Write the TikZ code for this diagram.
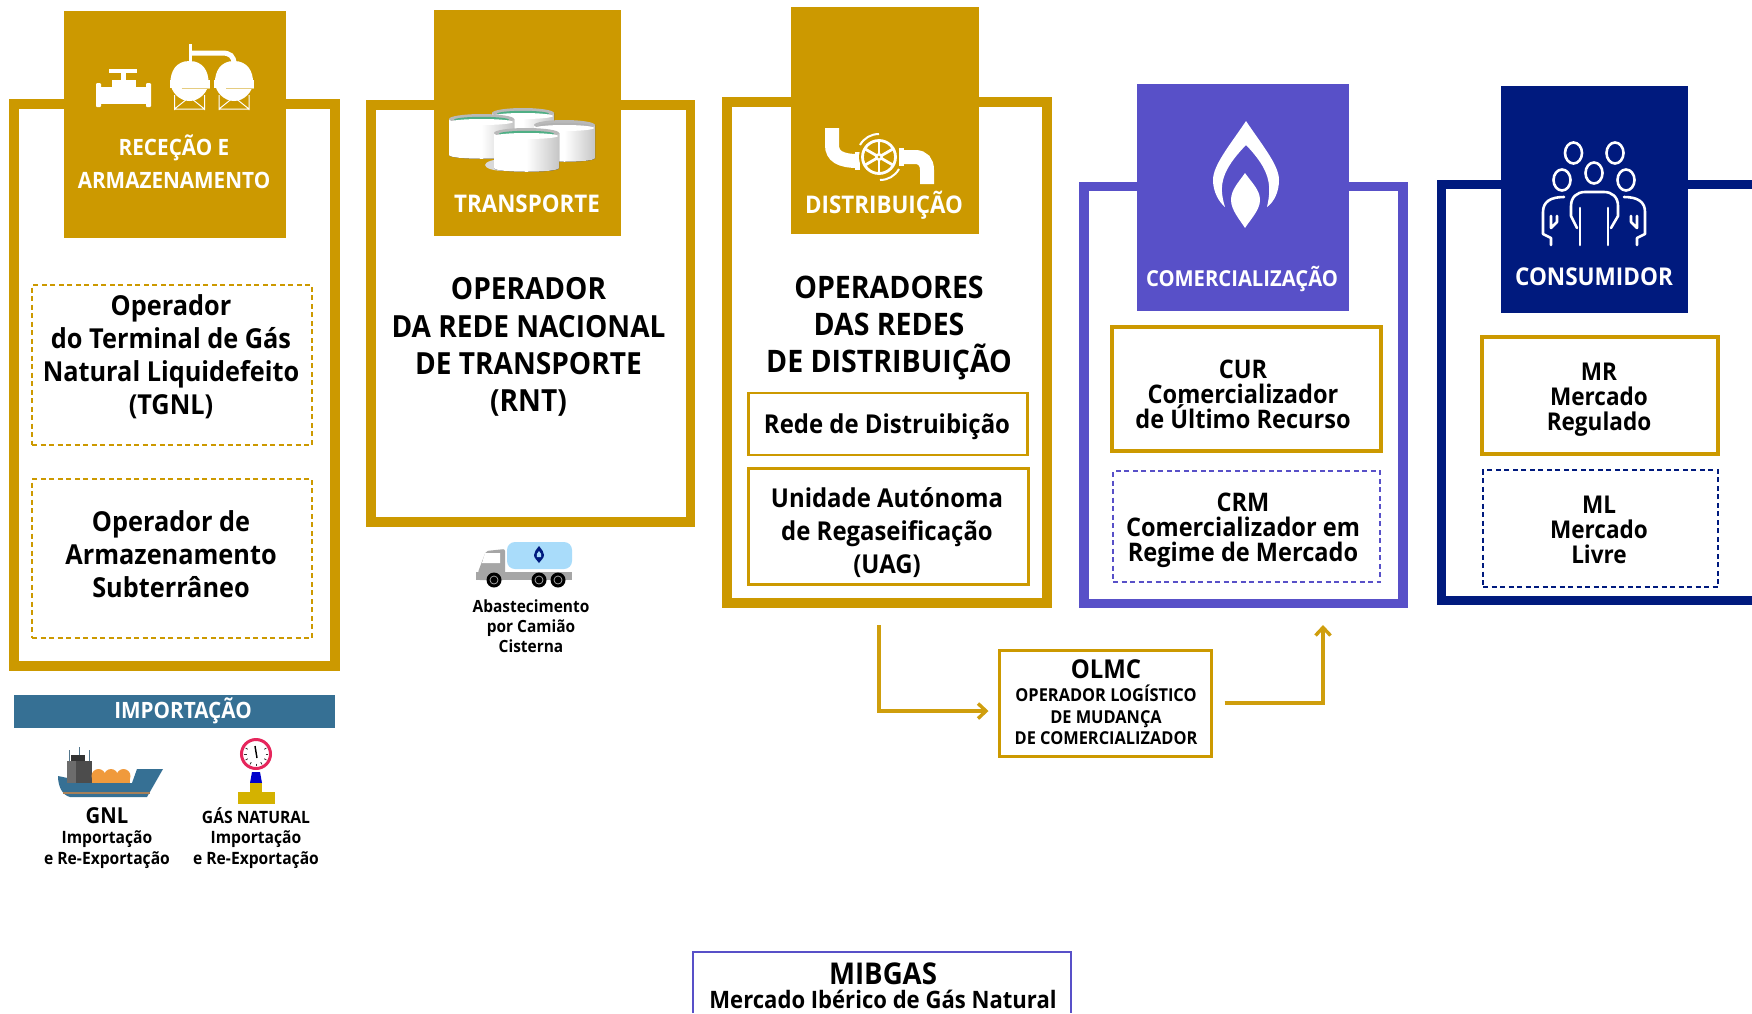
\documentclass[tikz,border=0pt]{standalone}
\usepackage{fontspec}
\setmainfont[FakeStretch=0.92]{Open Sans}
\usetikzlibrary{calc,arrows.meta}
\definecolor{gold}{HTML}{CC9900}
\definecolor{violetb}{HTML}{5850C8}
\definecolor{navyb}{HTML}{001A7E}
\definecolor{tealb}{HTML}{367094}
\definecolor{tankblue}{HTML}{A9DCFA}
\definecolor{shiporange}{HTML}{F09A3C}
\definecolor{gaugeyellow}{HTML}{D4B200}
\definecolor{gaugered}{HTML}{E6265C}
\definecolor{tankgreen}{HTML}{4FAF85}
\newcommand\cylin[5]{%
  \fill[left color=white,right color=gray!45,middle color=white] (#1,#3) -- (#2,#3) -- (#2,#4) .. controls (#2,#4+5) and (#1,#4+5) .. (#1,#4) -- cycle;
  \fill[gray!55] ({(#1+#2)/2},#3) ellipse [x radius={(#2-#1)/2}, y radius=5];
  \fill[#5] ({(#1+#2)/2},{#3+0.8}) ellipse [x radius={(#2-#1)/2-5}, y radius=3];
  \fill[white] ({(#1+#2)/2},{#3+3}) ellipse [x radius={(#2-#1)/2-1}, y radius=3];
}
\tikzset{
  panel/.style={draw=#1,line width=9.5pt,fill=white,inner sep=0pt},
  head/.style={fill=#1,inner sep=0pt},
  solidbox/.style={draw=gold,fill=white,inner sep=0pt},
  dashbox/.style={draw=#1,line width=1.1pt,dash pattern=on 5pt off 3.5pt,inner sep=0pt},
  headtxt/.style={text=white,align=center,inner sep=0pt,font=\bfseries\fontsize{#1}{33}\selectfont},
  txt/.style 2 args={text=black,align=center,inner sep=0pt,font=\bfseries\fontsize{#1}{#2}\selectfont},
  flow/.style={draw=gold!95!white,line width=3.6pt,-{Straight Barb[length=8pt,width=15pt,line width=3.4pt]}},
  iconline/.style={draw=white,line width=2.6pt,line cap=round,line join=round,fill=none},
  pipe/.style={draw=white,line width=14pt,fill=none},
}
\begin{document}
\begin{tikzpicture}[x=1pt,y=-1pt]
\useasboundingbox (0,0) rectangle (1752,1013);
\fill[white] (0,0) rectangle (1752,1013);
% panels
\node[panel=gold,line width=10pt,minimum width=321pt,minimum height=562pt] (p1) at (174.5,385) {};
\node[panel=gold,minimum width=319.5pt,minimum height=417pt] (p2) at (530.5,313.5) {};
\node[panel=gold,minimum width=320pt,minimum height=501pt] (p3) at (887,352.5) {};
\node[panel=violetb,minimum width=319pt,minimum height=417pt] (p4) at (1243.5,395) {};
\draw[draw=navyb,line width=9pt] (1752,184) -- (1441,184) -- (1441,600.5) -- (1752,600.5);
% heads
\node[head=gold,minimum width=222pt,minimum height=227pt] (h1) at (175,124.5) {};
\node[head=gold,minimum width=187pt,minimum height=226pt] (h2) at (527.5,123) {};
\node[head=gold,minimum width=188pt,minimum height=227pt] (h3) at (885,120.5) {};
\node[head=violetb,minimum width=212pt,minimum height=227pt] (h4) at (1243,197.5) {};
\node[head=navyb,minimum width=187pt,minimum height=227pt] (h5) at (1594.5,199.5) {};
% valve icon
\fill[white] (109,69) rectangle (137,73);
\fill[white] (121,73) rectangle (126,80);
\fill[white] (112,80) rectangle (136,88);
\fill[white] (99,87) rectangle (147,104);
\fill[white,rounded corners=1pt] (96,83) rectangle (101,107);
\fill[white,rounded corners=1pt] (146,83) rectangle (151,107);
% tanks icon
\draw[white,line width=3pt] (190,44) -- (190,63);
\draw[white,line width=5pt] (190,53) -- (222,53) .. controls (230,53) and (234,56) .. (234,64);
\foreach \c in {189.5,234}{
  \fill[white] (\c,61) .. controls (\c+14,61) and (\c+19,72) .. (\c+19,82) .. controls (\c+19,92) and (\c+10,101) .. (\c,101) .. controls (\c-10,101) and (\c-19,92) .. (\c-19,82) .. controls (\c-19,72) and (\c-14,61) .. (\c,61) -- cycle;
  \fill[white] (\c-20,80) rectangle (\c+20,88);
  \draw[gold!50!white,line width=.8pt] (\c-8,88) -- (\c+20,88);
  \draw[white,line width=1pt] (\c-15,95) -- (\c-15,110) (\c+15,95) -- (\c+15,110) (\c-15,109) -- (\c+15,109) (\c-15,109) -- (\c,97) -- (\c+15,109);
}
% cylinders
\fill[gray!30] (505,165) ellipse [x radius=20, y radius=6];
\cylin{492}{554}{113}{150}{tankgreen}
\cylin{534}{595}{125}{158}{gray!60}
\cylin{449}{514}{119}{155}{tankgreen}
\cylin{494}{559}{133}{168}{tankgreen}
% pipe and wheel
\draw[pipe] (832,128) -- (832,145) .. controls (832,156) and (840,161) .. (858,161);
\draw[pipe] (903,157) -- (915,157) .. controls (923,157) and (927,162) .. (927,170) -- (927,184);
\fill[white] (855,152) rectangle (860,170);
\fill[white] (899,148) rectangle (904,166);
\fill[gold] (879,157) circle [radius=20];
\draw[white,line width=2.8pt] (879,157) circle [radius=16.5];
\foreach \a in {30,90,150,210,270,330}{\draw[white,line width=2.8pt] (879,157) -- ++(\a:16.5);}
\fill[white] (879,157) circle [radius=4];
\fill[gold] (879,157) circle [radius=1.4];
\draw[white,line width=2pt] (879,134) .. controls (871,134) and (864,138) .. (860,145);
\draw[white,line width=2pt] (880,180) .. controls (888,180) and (895,176) .. (899,169);
% flame
\fill[white] (1246,121) .. controls (1230,145) and (1213,165) .. (1213,180) .. controls (1213,192) and (1219,202) .. (1225,207) .. controls (1218,185) and (1222,170) .. (1246,145) .. controls (1270,170) and (1272,185) .. (1267,207) .. controls (1274,202) and (1279,192) .. (1279,180) .. controls (1279,165) and (1262,145) .. (1246,121) -- cycle;
\fill[white] (1245,173) .. controls (1238,183) and (1231,190) .. (1231,200) .. controls (1231,210) and (1240,220) .. (1245,228) .. controls (1250,220) and (1260,210) .. (1260,200) .. controls (1260,190) and (1252,183) .. (1245,173) -- cycle;
% people
\foreach \px/\py in {1573.5/153,1615/153,1594/173,1562/180,1626/180}{
  \draw[iconline] (\px,\py) ellipse [x radius=8.5, y radius=10.5];
}
\draw[iconline] (1577,228) -- (1571,216) -- (1571,206) .. controls (1571,197) and (1577,192) .. (1585,192) -- (1604,192) .. controls (1612,192) and (1618,197) .. (1618,206) -- (1618,216) -- (1611,228);
\draw[iconline] (1580,208) -- (1580,245) (1608,208) -- (1608,245);
\draw[iconline] (1564,197) .. controls (1550,197) and (1543,202) .. (1543,212) -- (1543,234) -- (1551,238) -- (1551,245);
\draw[iconline] (1551,216) -- (1551,228) -- (1557,222) -- (1557,216);
\draw[iconline] (1624,197) .. controls (1638,197) and (1645,202) .. (1645,212) -- (1645,234) -- (1637,238) -- (1637,245);
\draw[iconline] (1637,216) -- (1637,228) -- (1631,222) -- (1631,216);
% head labels
\node[headtxt=22.5] (l1) at (174,161.5) {RECEÇÃO E\\ARMAZENAMENTO};
\node[headtxt=24.3] (l2) at (527,204) {TRANSPORTE};
\node[headtxt=24.3] (l3) at (884,205) {DISTRIBUIÇÃO};
\node[headtxt=22] (l4) at (1242,279) {COMERCIALIZAÇÃO};
\node[headtxt=24.5] (l5) at (1594,277) {CONSUMIDOR};
% inner boxes
\node[dashbox=gold,minimum width=280pt,minimum height=160pt] (d1) at (172,365) {};
\node[dashbox=gold,minimum width=280pt,minimum height=159pt] (d2) at (172,558.5) {};
\node[solidbox,line width=2.5pt,minimum width=279pt,minimum height=62pt] (b1) at (888,424) {};
\node[solidbox,line width=3pt,minimum width=280pt,minimum height=116pt] (b2) at (888,526) {};
\node[solidbox,line width=4.5pt,minimum width=269pt,minimum height=124pt] (b3) at (1246.5,389) {};
\node[dashbox=violetb,minimum width=267pt,minimum height=111pt] (d3) at (1246.5,526.5) {};
\node[solidbox,line width=4.5pt,minimum width=236pt,minimum height=117pt] (b4) at (1600,395.5) {};
\node[dashbox=navyb,minimum width=235pt,minimum height=117pt] (d4) at (1600.5,528.5) {};
% inner texts
\node[txt={27.5}{33}] (t1) at (171,357) {Operador\\do Terminal de Gás\\Natural Liquidefeito\\(TGNL)};
\node[txt={27.5}{33}] (t2) at (171,554) {Operador de\\Armazenamento\\Subterrâneo};
\node[txt={30.5}{37.3}] (t3) at (528.5,347) {OPERADOR\\DA REDE NACIONAL\\DE TRANSPORTE\\(RNT)};
\node[txt={31}{37}] (t4) at (889,328) {OPERADORES\\DAS REDES\\DE DISTRIBUIÇÃO};
\node[txt={26}{33}] (t5) at (887,426.5) {Rede de Distruibição};
\node[txt={26}{33}] (t6) at (887,533) {Unidade Autónoma\\de Regaseificação\\(UAG)};
\node[txt={25.6}{25}] (t7) at (1243,394) {CUR\\Comercializador\\de Último Recurso};
\node[txt={25.6}{25}] (t8) at (1243,530.5) {CRM\\Comercializador em\\Regime de Mercado};
\node[txt={24.5}{25}] (t9) at (1599,400) {MR\\Mercado\\Regulado};
\node[txt={24.5}{25}] (t10) at (1599,529.5) {ML\\Mercado\\Livre};
% OLMC
\node[solidbox,line width=3pt,minimum width=212pt,minimum height=106pt] (olmc) at (1105,703) {};
\node[txt={26}{26}] (o1) at (1106,669.5) {OLMC};
\node[txt={17.8}{21.5}] (o2) at (1106,715) {OPERADOR LOGÍSTICO\\DE MUDANÇA\\DE COMERCIALIZADOR};
\coordinate (fromdist) at (879,625);
\coordinate (tocom) at (1323,625);
\draw[flow,shorten >=9pt] (fromdist) |- ($(olmc.west)+(0,8)$);
\draw[flow,shorten <=12pt,shorten >=0pt] (olmc.east) -| (tocom);
% truck
\fill[gray!70] (476,572) rectangle (572,580);
\fill[gray!70,rounded corners=2pt] (478,580) -- (478,572) -- (486,551) -- (505,549) -- (505,580) -- cycle;
\fill[white] (485,553) -- (500,553) -- (500,563) -- (482,563) -- cycle;
\fill[tankblue,rounded corners=8pt] (507,542) rectangle (572,569);
\foreach \wx in {494,539,558}{
  \fill[black] (\wx,580) circle [radius=7.5];
  \draw[gray!60,line width=.7pt] (\wx,580) circle [radius=4];
}
\fill[navyb] (539,546) .. controls (536,550) and (534,552) .. (534,555) .. controls (534,558) and (537,560) .. (539,563) .. controls (541,560) and (544,558) .. (544,555) .. controls (544,552) and (542,550) .. (539,546) -- cycle;
\fill[tankblue] (539,551) .. controls (537,553) and (536,555) .. (537,557) -- (541,557) .. controls (542,555) and (541,553) .. (539,551) -- cycle;
\node[txt={16.8}{20}] (trucktxt) at (531,626.5) {Abastecimento\\por Camião\\Cisterna};
% importacao
\node[fill=tealb,inner sep=0pt,minimum width=321pt,minimum height=33pt] (imp) at (174.5,711) {};
\node[headtxt=22.5] (implab) at (183,710.5) {IMPORTAÇÃO};
% ship
\fill[tealb] (58,776) -- (92,783) -- (132,783) -- (137,769) -- (163,769) -- (147,797) -- (70,797) .. controls (62,795) and (58,786) .. (58,776) -- cycle;
\draw[brown!60!gray,line width=1.2pt] (63,793) -- (150,793);
\fill[gray!85!black] (67,761) rectangle (92,783);
\fill[black!70] (76,761) rectangle (92,783);
\fill[black!80] (71,755) rectangle (85,761);
\draw[tealb!60!gray,line width=.8pt] (69,750) -- (69,761) (79,747) -- (79,755) (89,750) -- (89,761);
\foreach \dx in {98.5,111,123.5}{\fill[shiporange] (\dx,776) circle [radius=7];}
\fill[shiporange] (92,776) rectangle (130,783);
% gauge
\fill[white] (256,754) circle [radius=14];
\draw[gaugered,line width=3pt] (256,754) circle [radius=14.5];
\foreach \a in {150,180,...,390}{\draw[black!80,line width=.8pt] (256,754) ++(\a:-9.5) -- ++(\a:-2.5);}
\draw[black,line width=1.4pt] (255,746) -- (257,758);
\fill[blue!80!black] (250,783) -- (252,772) -- (260,772) -- (262,783) -- cycle;
\fill[gaugeyellow] (250,783) rectangle (262,795);
\fill[gaugeyellow] (238,792) rectangle (275,804);
\node[txt={22}{22}] (gnl) at (107,815.5) {GNL};
\node[txt={17}{20.5}] (gnl2) at (107,849.5) {Importação\\e Re-Exportação};
\node[txt={17}{20}] (gas) at (256,816) {GÁS NATURAL};
\node[txt={17}{20.5}] (gas2) at (256,849.5) {Importação\\e Re-Exportação};
% MIBGAS
\draw[draw=violetb,line width=2pt] (693,1013) -- (693,952) -- (1071,952) -- (1071,1013);
\node[txt={30}{30}] (m1) at (883,973.5) {MIBGAS};
\node[txt={24}{24}] (m2) at (883,999.5) {Mercado Ibérico de Gás Natural};
\end{tikzpicture}
\end{document}
